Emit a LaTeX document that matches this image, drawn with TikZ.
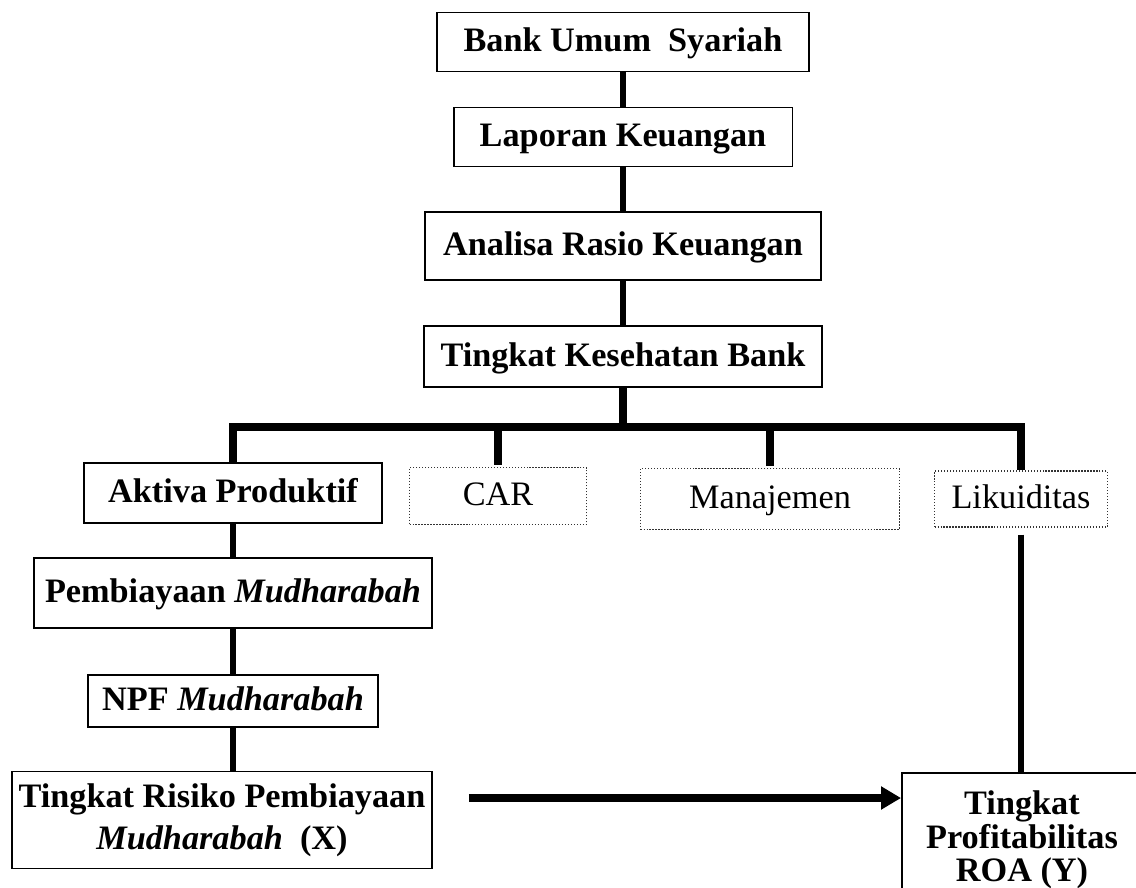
\documentclass[tikz,border=0pt]{standalone}
\usepackage{fontspec}
\setmainfont{Liberation Serif}
\usepackage{xcolor}
\usepackage{tikz}
\usetikzlibrary{positioning,arrows.meta}

\begin{document}
\begin{tikzpicture}[x=0.02cm, y=-0.02cm, node distance=2cm,
    box/.style={draw, rectangle, line width=1.1pt, inner sep=0pt, align=center, font=\fontsize{19.5}{24}\selectfont\bfseries},
    one/.style={text height=15pt, text depth=4.5pt},
    dotbox/.style={draw=black!80, rectangle, densely dotted, line width=0.7pt, inner sep=0pt, one, font=\fontsize{19.5}{24}\selectfont},
    link/.style={line width=3.1pt},
    trunk/.style={line width=4.5pt, line join=miter},
    flow/.style={line width=4pt, -{Triangle[length=0.4cm, width=0.44cm]}}]
    \path[use as bounding box, clip] (0,0) rectangle (1136,888);

    \node[box, one, minimum width=7.44cm, minimum height=1.18cm] (bus) at (623,42) {Bank Umum\ \ Syariah};
    \node[box, one, minimum width=6.78cm, minimum height=1.18cm, below of=bus, node distance=1.9cm] (lap) {Laporan Keuangan};
    \node[box, one, minimum width=7.92cm, minimum height=1.36cm, below of=lap, node distance=2.18cm] (ana) {Analisa Rasio Keuangan};
    \node[box, one, minimum width=7.96cm, minimum height=1.22cm, below of=ana, node distance=2.22cm] (tks) {Tingkat Kesehatan Bank};
    \coordinate (hub) at (623,427);

    \node[box, one, minimum width=5.96cm, minimum height=1.2cm] (akt) at (233,493) {Aktiva Produktif};
    \node[dotbox, minimum width=3.54cm, minimum height=1.14cm] (car) at (498,496) {CAR};
    \node[dotbox, minimum width=5.18cm, minimum height=1.22cm] (man) at (770,499) {Manajemen};
    \node[dotbox, minimum width=3.46cm, minimum height=1.12cm] (lik) at (1021,499) {Likuiditas};

    \node[box, one, minimum width=7.96cm, minimum height=1.4cm, below of=akt, node distance=2cm] (pem) {Pembiayaan \textit{Mudharabah}};
    \node[box, one, minimum width=5.8cm, minimum height=1.04cm, below of=pem, node distance=2.16cm] (npf) {NPF \textit{Mudharabah}};
    \node[box, minimum width=8.4cm, minimum height=1.94cm] (rsk) at (222,820) {Tingkat Risiko Pembiayaan\\\textit{Mudharabah}\ \ (X)};
    \node[box, minimum width=4.8cm, minimum height=2.68cm, font=\fontsize{19.5}{19}\selectfont\bfseries] (roa) at (1022,840) {Tingkat\\Profitabilitas\\ROA (Y)};

    \draw[link] (bus) -- (lap);
    \draw[link] (lap) -- (ana);
    \draw[link] (ana) -- (tks);
    \draw[trunk] (tks.south) -- (hub);
    \draw[trunk] (akt.north) |- (hub) -| (lik.north);
    \draw[trunk] (car.north |- hub) -- ([yshift=1pt]car.north);
    \draw[trunk] (man.north |- hub) -- ([yshift=1pt]man.north);

    \draw[link] (akt.south) -- (akt.south |- pem.north);
    \draw[link] (pem.south) -- (pem.south |- npf.north);
    \draw[link] (npf.south) -- (npf.south |- rsk.north);
    \draw[link, shorten <=4pt] (lik.south) -- (lik.south |- roa.north);

    \coordinate (xs) at ([xshift=0.72cm, yshift=0.44cm]rsk.east);
    \draw[flow] (xs) -- (xs -| roa.west);
\end{tikzpicture}
\end{document}
